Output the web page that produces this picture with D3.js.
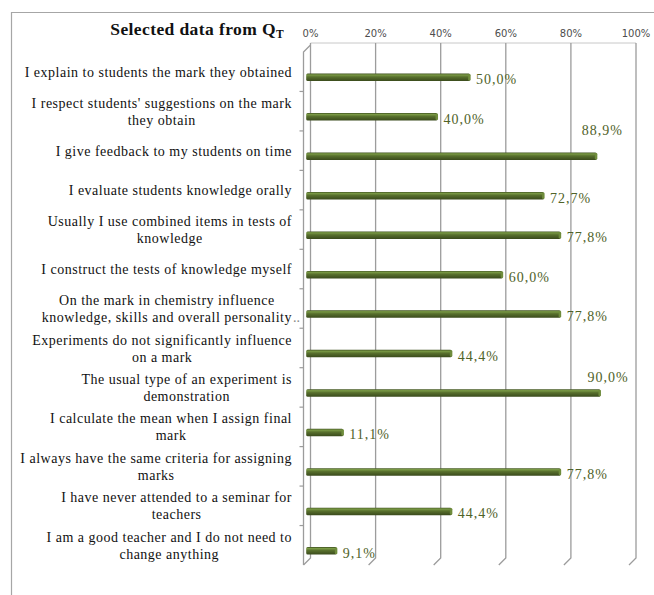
<!DOCTYPE html>
<html>
<head>
<meta charset="utf-8">
<script src="https://cdn.jsdelivr.net/npm/d3@7"></script>
<style>
  body { margin: 0; background: #fff; }
  svg { display: block; }
</style>
</head>
<body>
<div id="chart"></div>
<script>
var width = 654,
    height = 595;

// data
var categories = [
  "I explain to students the mark they obtained",
  "I respect students' suggestions on the mark\nthey obtain",
  "I give feedback to my students on time",
  "I evaluate students knowledge orally",
  "Usually I use combined items in tests of\nknowledge",
  "I construct the tests of knowledge myself",
  "On the mark in chemistry influence\nknowledge, skills and overall personality\u2026",
  "Experiments do not significantly influence\non a mark",
  "The usual type of an experiment is\ndemonstration",
  "I calculate the mean when I assign final\nmark",
  "I always have the same criteria for assigning\nmarks",
  "I have never attended to a seminar for\nteachers",
  "I am a good teacher and I do not need to\nchange anything"
];
var values = [0.500, 0.400, 0.889, 0.727, 0.778, 0.600, 0.778, 0.444, 0.900, 0.111, 0.778, 0.444, 0.091];
var ticks = [0, 0.2, 0.4, 0.6, 0.8, 1.0];

// the two labels Excel pushed above their bars
var aboveShift = { 2: [-15, -26], 8: [-13, -16] };

var loc = d3.formatLocale({ decimal: ",", thousands: ".", grouping: [3], currency: ["", ""] });
var fmt = loc.format(".1%");

var svg = d3.select("#chart").append("svg")
    .attr("width", width)
    .attr("height", height);

var defs = svg.append("defs");
var grad = defs.append("linearGradient")
    .attr("id", "barGrad")
    .attr("x1", 0).attr("y1", 0).attr("x2", 0).attr("y2", 1);
grad.append("stop").attr("offset", "0%").attr("stop-color", "#3f5120");
grad.append("stop").attr("offset", "18%").attr("stop-color", "#7a9a45");
grad.append("stop").attr("offset", "45%").attr("stop-color", "#58702d");
grad.append("stop").attr("offset", "100%").attr("stop-color", "#3a4a1c");

// outer frame (runs off the right and bottom of the picture)
svg.append("path")
    .attr("d", "M11.5," + height + "V12.5H" + width)
    .attr("fill", "none")
    .attr("stroke", "#a6a6a6")
    .attr("stroke-width", 1.2);

var depth = 7;
var backTop = 45, backBottom = 558;

var x = d3.scaleLinear().domain([0, 1]).range([310.5, 636]);
var xBar = d3.scaleLinear().domain([0, 1]).range([307.2, 633]);
var y = d3.scaleBand()
    .domain(categories)
    .range([backTop + depth, backBottom + depth])
    .padding(0);

var gridColor = "#9c9c9c";

// top axis line
svg.append("line")
    .attr("x1", x(0)).attr("x2", x(1))
    .attr("y1", backTop - 2).attr("y2", backTop - 2)
    .attr("stroke", "#c8c8c8")
    .attr("stroke-width", 1);

// back wall gridlines with their floor edge
svg.selectAll(".grid")
    .data(ticks)
    .enter().append("path")
    .attr("class", "grid")
    .attr("d", function(d) {
      return "M" + x(d) + "," + (backTop - 2) + "V" + backBottom +
             "L" + (x(d) - depth) + "," + (backBottom + depth);
    })
    .attr("fill", "none")
    .attr("stroke", gridColor)
    .attr("stroke-width", 1.3);

// left side wall front edge
svg.append("path")
    .attr("d", "M" + x(0) + "," + backTop + "L" + (x(0) - depth) + "," + (backTop + depth) +
               "V" + (backBottom + depth))
    .attr("fill", "none")
    .attr("stroke", gridColor)
    .attr("stroke-width", 1.3);

// category ticks
svg.selectAll(".ctick")
    .data(categories.slice(1))
    .enter().append("line")
    .attr("class", "ctick")
    .attr("x1", x(0) - depth - 4).attr("x2", x(0) - depth)
    .attr("y1", function(d) { return y(d); })
    .attr("y2", function(d) { return y(d); })
    .attr("stroke", gridColor)
    .attr("stroke-width", 1.2);

// tick labels on top
svg.selectAll(".tlabel")
    .data(ticks)
    .enter().append("text")
    .attr("class", "tlabel")
    .attr("x", function(d) { return x(d); })
    .attr("y", 36.5)
    .attr("text-anchor", "middle")
    .attr("font-family", "DejaVu Sans, sans-serif")
    .attr("font-size", 10)
    .attr("fill", "#4d4d4d")
    .text(d3.format(".0%"));

// title
var title = svg.append("text")
    .attr("x", 284)
    .attr("y", 35)
    .attr("text-anchor", "end")
    .attr("font-family", "Liberation Serif, serif")
    .attr("font-weight", "bold")
    .attr("font-size", 17.5)
    .attr("letter-spacing", 0.4)
    .attr("fill", "#111");
title.append("tspan").text("Selected data from Q");
title.append("tspan")
    .attr("font-size", 11.5)
    .attr("dy", 3)
    .text("T");

var barH = 7.5,
    barOff = 5.6;

function barMid(i) { return y(categories[i]) + y.bandwidth() / 2 + barOff; }

// bars
var bars = svg.selectAll(".bar")
    .data(values)
    .enter().append("g")
    .attr("class", "bar");

bars.append("rect")
    .attr("x", xBar(0) - 1)
    .attr("y", function(d, i) { return barMid(i) - barH / 2; })
    .attr("width", function(d) { return xBar(d) - xBar(0) + 1; })
    .attr("height", barH)
    .attr("rx", 1.5)
    .attr("fill", "url(#barGrad)");

bars.append("rect")
    .attr("x", function(d) { return xBar(d) - 2; })
    .attr("y", function(d, i) { return barMid(i) - barH / 2 + 0.5; })
    .attr("width", 2.5)
    .attr("height", barH - 1)
    .attr("rx", 1.2)
    .attr("fill", "#6f8c3c");

// value labels
svg.selectAll(".vlabel")
    .data(values)
    .enter().append("text")
    .attr("class", "vlabel")
    .attr("x", function(d, i) {
      return aboveShift[i] ? xBar(d) + aboveShift[i][0] : xBar(d) + 6;
    })
    .attr("y", function(d, i) {
      return aboveShift[i] ? barMid(i) + aboveShift[i][1] : barMid(i) + 2.5;
    })
    .attr("dominant-baseline", "central")
    .attr("font-family", "Liberation Serif, serif")
    .attr("font-size", 14)
    .attr("letter-spacing", 1)
    .attr("fill", "#4f6228")
    .text(fmt);

// category labels: wrapped lines centred in a block, block right aligned
var labelRight = 292,
    lineH = 17;

categories.forEach(function(c, i) {
  var lines = c.split("\n");
  var g = svg.append("g").attr("class", "clabel");
  var mid = y(c) + y.bandwidth() / 2 + 0.6;
  var texts = lines.map(function(l, j) {
    return g.append("text")
      .attr("y", mid + (j - (lines.length - 1) / 2) * lineH)
      .attr("dominant-baseline", "central")
      .attr("text-anchor", "middle")
      .attr("font-family", "Liberation Serif, serif")
      .attr("font-size", 14)
      .attr("letter-spacing", 0.5)
      .attr("fill", "#111")
      .text(l.replace("\u2026", ""));
  });
  var w = d3.max(texts, function(t) { return t.node().getComputedTextLength(); });
  w = Math.min(w, 272);
  texts.forEach(function(t, j) {
    t.attr("x", labelRight - w / 2);
    if (lines[j].indexOf("\u2026") >= 0) {
      var len = t.node().getComputedTextLength();
      g.append("text")
        .attr("x", labelRight - w / 2 + len / 2 + 1)
        .attr("y", t.attr("y"))
        .attr("dominant-baseline", "central")
        .attr("font-family", "Liberation Serif, serif")
        .attr("font-size", 14)
        .attr("fill", "#888")
        .text("..");
    }
  });
});
</script>
</body>
</html>
